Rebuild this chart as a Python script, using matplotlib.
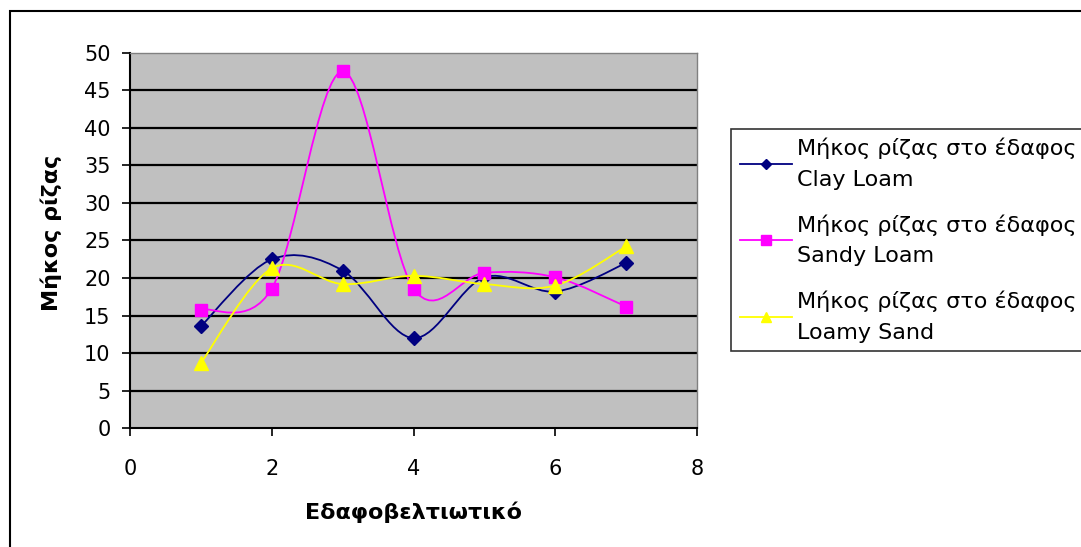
import numpy as np
import matplotlib
matplotlib.use("Agg")
from matplotlib import pyplot as plt
from matplotlib.path import Path
from matplotlib.patches import PathPatch, Rectangle
from matplotlib.lines import Line2D

plt.rcParams['font.family'] = ['DejaVu Sans']

# data
x = [1, 2, 3, 4, 5, 6, 7]
clay_loam = [13.6, 22.5, 21.0, 12.0, 20.1, 18.2, 22.0]
sandy_loam = [15.8, 18.6, 47.5, 18.6, 20.7, 20.1, 16.2]
loamy_sand = [8.7, 21.3, 19.2, 20.3, 19.2, 19.0, 24.2]

labels = ["Μήκος ρίζας στο έδαφος\nClay Loam",
          "Μήκος ρίζας στο έδαφος\nSandy Loam",
          "Μήκος ρίζας στο έδαφος\nLoamy Sand"]
colors = ["#000080", "#FF00FF", "#FFFF00"]
markers = ["D", "s", "^"]
msizes = [7, 8, 9.5]
leg_msizes = [5.5, 6.5, 7.5]


def smooth_path(xs, ys):
    """Excel style smoothed line: cubic bezier through the points."""
    pts = np.column_stack([xs, ys]).astype(float)
    n = len(pts)
    verts = [pts[0]]
    codes = [Path.MOVETO]
    for i in range(n - 1):
        p0 = pts[i - 1] if i > 0 else pts[i]
        p1 = pts[i]
        p2 = pts[i + 1]
        p3 = pts[i + 2] if i + 2 < n else pts[i + 1]
        c1 = p1 + (p2 - p0) / 6.0
        c2 = p2 - (p3 - p1) / 6.0
        verts += [c1, c2, p2]
        codes += [Path.CURVE4] * 3
    return Path(verts, codes)


fig = plt.figure(figsize=(10.81, 5.47), dpi=100)
ax = fig.add_axes([0.1203, 0.2170, 0.5245, 0.6867])
ax.set_facecolor("#C0C0C0")

for ys, c, m, ms in zip([clay_loam, sandy_loam, loamy_sand], colors, markers, msizes):
    patch = PathPatch(smooth_path(x, ys), facecolor="none", edgecolor=c, lw=1.3, zorder=3)
    ax.add_patch(patch)
    ax.plot(x, ys, ls="none", marker=m, ms=ms, color=c, mec=c, zorder=4)

ax.set_xlim(0, 8)
ax.set_ylim(0, 50)
ax.set_xticks(np.arange(0, 9, 2))
ax.set_yticks(np.arange(0, 51, 5))

ax.yaxis.grid(True, color="black", lw=1.6)
ax.set_axisbelow(True)
ax.get_ygridlines()[-1].set_visible(False)
ax.get_ygridlines()[0].set_visible(False)

for s in ["top", "right"]:
    ax.spines[s].set_color("#808080")
    ax.spines[s].set_linewidth(1.0)
for s in ["left", "bottom"]:
    ax.spines[s].set_color("black")
    ax.spines[s].set_linewidth(1.5)

ax.tick_params(axis="y", direction="out", length=6, width=1.2, labelsize=15, pad=8)
ax.tick_params(axis="x", direction="out", length=6, width=1.2, labelsize=15, pad=16)

ax.set_xlabel("Εδαφοβελτιωτικό", fontsize=16, fontweight="bold")
ax.set_ylabel("Μήκος ρίζας", fontsize=16, fontweight="bold")
ax.xaxis.set_label_coords(0.5, -0.195)
ax.yaxis.set_label_coords(-0.12, 0.52)

handles = [Line2D([], [], color=c, marker=m, ms=ms, mec=c, lw=1.3)
           for c, m, ms in zip(colors, markers, leg_msizes)]
leg = fig.legend(handles, labels, loc="upper left", bbox_to_anchor=(0.676, 0.764),
                 fontsize=16, frameon=True, fancybox=False, edgecolor="black",
                 handlelength=2.35, handletextpad=0.22, borderpad=0.4,
                 labelspacing=1.1, borderaxespad=0)
leg.get_frame().set_linewidth(1.2)
for t in leg.get_texts():
    t.set_linespacing(1.65)

# outer chart border, cut off at the right and bottom edges
fig.add_artist(Rectangle((9.5 / 1081, -0.1), 1.2, 1 - 10.5 / 547 + 0.1,
                         transform=fig.transFigure, fill=False,
                         edgecolor="black", lw=1.5))

fig.savefig("out.png", dpi=100)
